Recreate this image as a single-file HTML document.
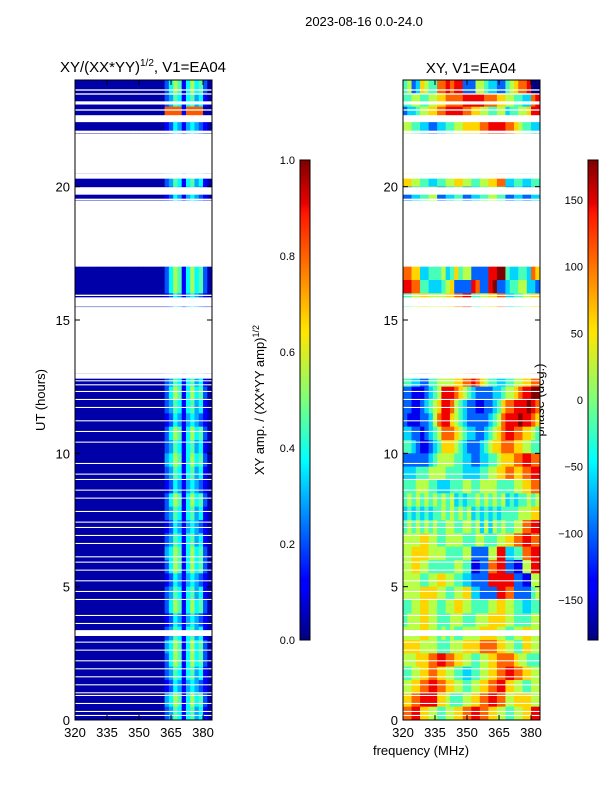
<!DOCTYPE html>
<html><head><meta charset="utf-8"><style>
html,body{margin:0;padding:0;background:#fff;}
svg{display:block;font-family:"Liberation Sans","DejaVu Sans",sans-serif;}
</style></head><body>
<svg id="fig" width="600" height="800" viewBox="0 0 600 800">
<defs>
<linearGradient id="jet" x1="0" y1="1" x2="0" y2="0">
<stop offset="0" stop-color="#00007f"/><stop offset="0.11" stop-color="#0000ff"/><stop offset="0.125" stop-color="#0000ff"/>
<stop offset="0.34" stop-color="#00dcff"/><stop offset="0.375" stop-color="#0ff"/><stop offset="0.5" stop-color="#7dff7a"/>
<stop offset="0.64" stop-color="#ffe600"/><stop offset="0.66" stop-color="#ffd900"/><stop offset="0.89" stop-color="#ff1500"/>
<stop offset="0.91" stop-color="#e80000"/><stop offset="1" stop-color="#7f0000"/>
</linearGradient>
</defs>
<text x="364" y="26" font-size="13" text-anchor="middle">2023-08-16 0.0-24.0</text>
<text x="143" y="72" font-size="15" text-anchor="middle">XY/(XX*YY)<tspan font-size="10" dy="-6">1/2</tspan><tspan dy="6">, V1=EA04</tspan></text>
<text x="471" y="73" font-size="15" text-anchor="middle">XY, V1=EA04</text>
<text transform="translate(45,400) rotate(-90)" font-size="13" text-anchor="middle">UT (hours)</text>
<text x="421" y="755" font-size="13" text-anchor="middle">frequency (MHz)</text>
<text transform="translate(264,400) rotate(-90)" font-size="13" text-anchor="middle">XY amp. / (XX*YY amp)<tspan font-size="9" dy="-5">1/2</tspan></text>
<text transform="translate(544,400) rotate(-90)" font-size="13" text-anchor="middle">phase (deg.)</text>
<g id="left"></g>
<g id="right"></g>
<g id="axes"></g>
<rect x="300" y="160" width="10" height="480" fill="url(#jet)" stroke="#000" stroke-width="1"/>
<rect x="588" y="160" width="10" height="480" fill="url(#jet)" stroke="#000" stroke-width="1"/>
</svg>
<script>
// time bins of 0.5 h, listed top (23.5-24h) to bottom (0-0.5h); 32 frequency columns of 2 MHz (320-384)
const freqStart = 320, freqStep = 2, timeStep = 0.5;
const xTicks = [320, 335, 350, 365, 380];
const yTicks = [0, 5, 10, 15, 20];
const ampTicks = [0.0, 0.2, 0.4, 0.6, 0.8, 1.0];
const phaseTicks = [-150, -100, -50, 0, 50, 100, 150];
const Z = "000000000000000000000";
const ampRows = [
Z+"24651464520", Z+"23541453410", Z+"99991999900", Z+"12431343210", "-", "-", "-",
Z+"23541453410", Z+"12431343210", "-", "-", "-", "-", "-",
Z+"24651464520", Z+"24651464520", Z+"12431343210", "-", "-", "-", "-", "-",
Z+"23541453410", Z+"24651464520", Z+"23541453410", Z+"12431343210", Z+"24651464520", Z+"23541453410",
Z+"34651464520", Z+"23541453410", Z+"12431343210", Z+"24651464520", Z+"23541453410", Z+"12431343210",
Z+"23541453410", Z+"34651464520", Z+"24651464520", Z+"12431343210", Z+"23541453410", Z+"24651464520",
Z+"12431343210", Z+"23541453410", Z+"34651464520", Z+"24651464520", Z+"23541453410", Z+"12431343210",
Z+"34651464520", Z+"23541453410"
];
const phaseRows = [
"45236544"+"77878822"+"25543322"+"45677800",
"44554455"+"66777788"+"88877766"+"55443378",
"23345566"+"77888877"+"66554455"+"34455688",
"55443322"+"33445566"+"66778888"+"77654433",
"-","-","-",
"66554433"+"44556655"+"44556677"+"33443344",
"22334455"+"22334422"+"33445544"+"22332233",
"-","-","-","-","-",
"77663344"+"45346455"+"22228899"+"43344376",
"88774433"+"34562222"+"87228922"+"34455332",
"44556655"+"55667788"+"44556677"+"33445566",
"-","-","-","-","-",
"44332244"+"55556677"+"87654433"+"44556677",
"22111234"+"58887654"+"32222334"+"55678899",
"22112345"+"68875432"+"21122346"+"77888987",
"21112235"+"78865432"+"22223457"+"88898876",
"33221234"+"57776543"+"32234567"+"88776654",
"44321123"+"46665432"+"22345667"+"77665544",
"22222234"+"55554433"+"22334456"+"66778877",
"33344455"+"55444433"+"33445566"+"77667788",
"44455544"+"33344455"+"44555544"+"44556677",
"45454545"+"45453434"+"45454545"+"34344545",
"34343434"+"45454545"+"34343434"+"44455566",
"45454545"+"44554455"+"45353545"+"44557788",
"55556655"+"44555544"+"45544455"+"66778877",
"55666655"+"55444455"+"22225588"+"33447788",
"55665544"+"44445544"+"11227788"+"22115588",
"55554455"+"66554433"+"22228888"+"88221155",
"55556666"+"55445566"+"33222288"+"77222245",
"44556655"+"44556655"+"44445566"+"55443344",
"45556655"+"44455544"+"45556666"+"55444455",
"55556655"+"45454455"+"55666655"+"44556655",
"66665555"+"44455566"+"66777766"+"55446655",
"55566677"+"88776655"+"44556677"+"77655444",
"44556677"+"66554433"+"44556677"+"88776655",
"55667788"+"77665544"+"55667788"+"66554455",
"66778888"+"66544455"+"66778877"+"55666655",
"77886655"+"44556677"+"88776655"+"44556688"
];
// flagged (blank) time ranges in hours
const gapStarts = [23.6,23.45,23.08,22.85,22.42,22.0,20.3,19.7,19.5,15.5,15.9,12.8,12.7,12.55,12.3,12.0,11.7,11.2,10.8,10.4,9.6,9.2,9.0,8.6,8.3,7.8,7.4,7.2,6.9,6.6,6.1,5.9,5.6,5.2,4.8,4.5,3.9,3.6,3.15,2.9,2.6,2.2,1.9,1.6,1.3,1.0,0.9,0.6,0.3,0.15];
const gapEnds   = [23.65,23.5,23.2,22.9,22.68,22.1,20.5,19.98,19.55,15.85,15.95,13.0,12.74,12.59,12.34,12.04,11.74,11.24,10.84,10.44,9.64,9.24,9.04,8.64,8.34,7.84,7.44,7.24,6.94,6.64,6.14,5.94,5.64,5.24,4.84,4.54,3.94,3.64,3.37,2.94,2.64,2.24,1.94,1.64,1.34,1.04,0.94,0.64,0.34,0.19];

const NS = "http://www.w3.org/2000/svg";
const panels = [{x0:75, x1:212, g:'left', id:'amp'}, {x0:403, x1:540, g:'right', id:'phase'}];
const yTop = 80, yBot = 720, tMax = 24, fMax = 384.2;
function yScale(t){ return yBot - (t/tMax)*(yBot-yTop); }
function xScale(p, f){ return p.x0 + (f-freqStart)/(fMax-freqStart)*(p.x1-p.x0); }
function jet(v){
  v = Math.max(0, Math.min(1, v));
  const c = x => Math.round(255*Math.max(0, Math.min(1, x)));
  return `rgb(${c(1.5-Math.abs(4*v-3))},${c(1.5-Math.abs(4*v-2))},${c(1.5-Math.abs(4*v-1))})`;
}
function mk(tag, attrs, parent){
  const e = document.createElementNS(NS, tag);
  for (const k in attrs) e.setAttribute(k, attrs[k]);
  parent.appendChild(e); return e;
}
function drawHeat(p, rows, valueOf){
  const g = document.getElementById(p.g);
  const n = rows.length;
  rows.forEach((row, i) => {
    if (row === "-") return;
    const bin = n-1-i;
    const ya = yScale((bin+1)*timeStep), yb = yScale(bin*timeStep);
    for (let j = 0; j < row.length; j++){
      const xa = xScale(p, freqStart+j*freqStep), xb = xScale(p, Math.min(freqStart+(j+1)*freqStep, fMax));
      const r = mk('rect', {x:xa.toFixed(2), y:ya.toFixed(2), width:(xb-xa+0.4).toFixed(2), height:(yb-ya+0.4).toFixed(2), fill:jet(valueOf(+row[j]))}, g);
      
      
    }
  });
  gapStarts.forEach((t0, k) => {
    const t1 = gapEnds[k];
    const r = mk('rect', {x:p.x0, y:yScale(t1).toFixed(2), width:p.x1-p.x0, height:(yScale(t0)-yScale(t1)).toFixed(2), fill:'#fff'}, g);
    
    
  });
}
drawHeat(panels[0], ampRows, d => 0.04 + d/12);
drawHeat(panels[1], phaseRows, d => d/9);

const ax = document.getElementById('axes');
panels.forEach(p => {
  const f = mk('rect', {x:p.x0, y:yTop, width:p.x1-p.x0, height:yBot-yTop, fill:'none', stroke:'#000', 'stroke-width':1}, ax);
  
  
  xTicks.forEach(v => {
    const x = xScale(p, v);
    mk('line', {x1:x, x2:x, y1:yBot, y2:yBot-5, stroke:'#000'}, ax);
    mk('line', {x1:x, x2:x, y1:yTop, y2:yTop+5, stroke:'#000'}, ax);
    const t = mk('text', {x:x, y:yBot+17, 'font-size':13, 'text-anchor':'middle'}, ax);
    t.textContent = v;
    
    
  });
  yTicks.forEach(v => {
    const y = yScale(v);
    mk('line', {x1:p.x0, x2:p.x0+5, y1:y, y2:y, stroke:'#000'}, ax);
    mk('line', {x1:p.x1, x2:p.x1-5, y1:y, y2:y, stroke:'#000'}, ax);
    const t = mk('text', {x:p.x0-5, y:y+5, 'font-size':13, 'text-anchor':'end'}, ax);
    t.textContent = v;
    
    
  });
});
function cbTicks(x, vals, lo, hi, fmt){
  vals.forEach(v => {
    const y = 640 - (v-lo)/(hi-lo)*480;
    mk('line', {x1:x, x2:x+3, y1:y, y2:y, stroke:'#000'}, ax);
    mk('line', {x1:x+10, x2:x+7, y1:y, y2:y, stroke:'#000'}, ax);
    const t = mk('text', {x:x-5, y:y+4, 'font-size':11, 'text-anchor':'end'}, ax);
    t.textContent = fmt(v);
    
    
  });
}
cbTicks(300, ampTicks, 0, 1, v => v.toFixed(1));
cbTicks(588, phaseTicks, -180, 180, v => v < 0 ? '\u2212'+Math.abs(v) : String(v));
</script>
</body></html>
